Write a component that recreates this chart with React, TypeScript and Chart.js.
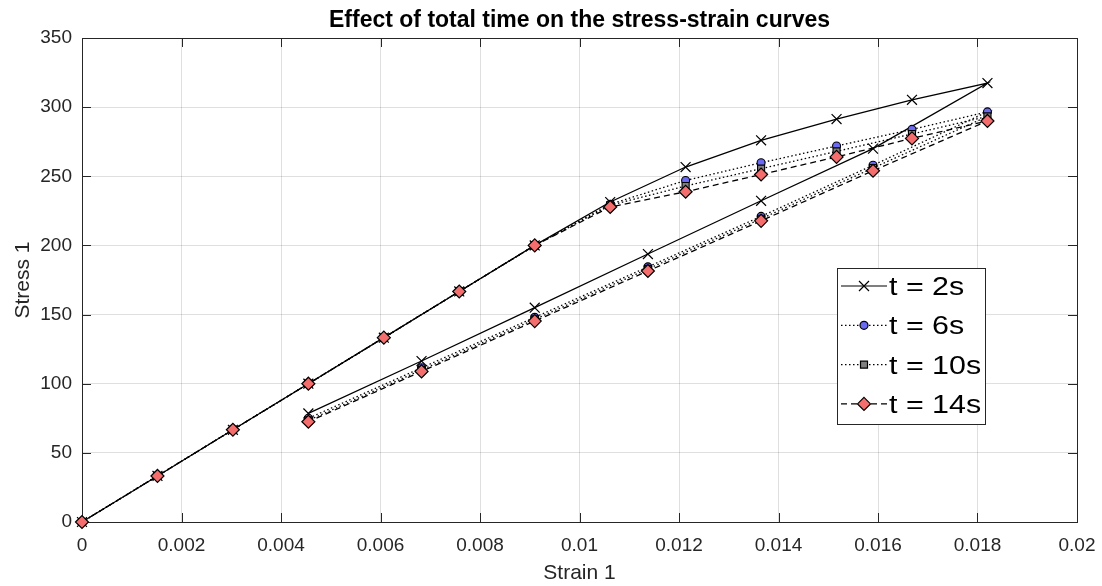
import React, { useEffect, useRef } from "react";
import { Chart, registerables } from "chart.js";

Chart.register(...registerables);

// Strain values: loading branch (0 -> 0.0182) then unloading branch (0.0159 -> 0.00455)
const strainValues = [
  0, 0.001517, 0.003033, 0.00455, 0.006067, 0.007583, 0.0091, 0.010617, 0.012133,
  0.01365, 0.015167, 0.016683, 0.0182, 0.0159, 0.01365, 0.011375, 0.0091, 0.006825, 0.00455,
];

const stress2s = [
  0, 33.3, 66.7, 100, 133.3, 166.7, 200, 231.4, 256.7, 276.0, 291.4, 305.3, 317.4,
  270.0, 232.3, 193.8, 155.0, 116.4, 78.5,
];
const stress6s = [
  0, 33.3, 66.7, 100, 133.3, 166.7, 200, 229.8, 247.0, 259.8, 271.9, 283.9, 296.6,
  258.0, 221.0, 184.5, 148.0, 111.5, 75.0,
];
const stress10s = [
  0, 33.3, 66.7, 100, 133.3, 166.7, 200, 229.0, 243.0, 255.5, 268.0, 280.6, 293.3,
  256.0, 219.3, 183.0, 146.5, 110.0, 73.5,
];
const stress14s = [
  0, 33.3, 66.7, 100, 133.3, 166.7, 200, 227.8, 238.8, 251.3, 264.0, 277.4, 290.0,
  254.0, 217.8, 181.5, 145.3, 108.9, 72.5,
];

const seriesLabels = ["t = 2s", "t = 6s", "t = 10s", "t = 14s"];
const xTickStep = 0.002;
const yTickStep = 50;

const AXIS_COLOR = "#262626";
const GRID_COLOR = "rgba(38,38,38,0.15)";
const FONT = "'Liberation Sans', Arial, Helvetica, sans-serif";

const toPoints = (ys: number[]) => ys.map((y, i) => ({ x: strainValues[i], y }));

const seriesStyles = [
  { dash: [] as number[], marker: "cross", fill: "#000000" },
  { dash: [1.5, 2.5], marker: "circle", fill: "#6a6af5" },
  { dash: [1.5, 2.5], marker: "square", fill: "#808080" },
  { dash: [6, 4], marker: "diamond", fill: "#f46e6e" },
];

function drawMarker(ctx: CanvasRenderingContext2D, kind: string, x: number, y: number, fill: string) {
  ctx.save();
  ctx.setLineDash([]);
  ctx.strokeStyle = "#000";
  ctx.lineWidth = 1.2;
  ctx.fillStyle = fill;
  ctx.beginPath();
  if (kind === "cross") {
    const s = 5;
    ctx.moveTo(x - s, y - s);
    ctx.lineTo(x + s, y + s);
    ctx.moveTo(x + s, y - s);
    ctx.lineTo(x - s, y + s);
    ctx.stroke();
  } else if (kind === "circle") {
    ctx.arc(x, y, 4, 0, Math.PI * 2);
    ctx.fill();
    ctx.stroke();
  } else if (kind === "square") {
    ctx.rect(x - 3.5, y - 3.5, 7, 7);
    ctx.fill();
    ctx.stroke();
  } else {
    const r = 6.5;
    ctx.moveTo(x, y - r);
    ctx.lineTo(x + r, y);
    ctx.lineTo(x, y + r);
    ctx.lineTo(x - r, y);
    ctx.closePath();
    ctx.fill();
    ctx.stroke();
  }
  ctx.restore();
}

const framePlugin = {
  id: "matlabFrame",
  beforeDatasetsDraw(chart: any) {
    const { ctx, chartArea, scales } = chart;
    const { left, right, top, bottom } = chartArea;
    ctx.save();
    ctx.strokeStyle = AXIS_COLOR;
    ctx.lineWidth = 1;
    ctx.setLineDash([]);
    ctx.strokeRect(Math.round(left) + 0.5, Math.round(top) + 0.5, Math.round(right - left), Math.round(bottom - top));
    const tl = 9;
    ctx.beginPath();
    for (const t of scales.x.ticks) {
      const px = Math.round(scales.x.getPixelForValue(t.value)) + 0.5;
      ctx.moveTo(px, bottom);
      ctx.lineTo(px, bottom - tl);
      ctx.moveTo(px, top);
      ctx.lineTo(px, top + tl);
    }
    for (const t of scales.y.ticks) {
      const py = Math.round(scales.y.getPixelForValue(t.value)) + 0.5;
      ctx.moveTo(left, py);
      ctx.lineTo(left + tl, py);
      ctx.moveTo(right, py);
      ctx.lineTo(right - tl, py);
    }
    ctx.stroke();
    ctx.restore();
  },
};

const legendPlugin = {
  id: "insideLegend",
  afterDatasetsDraw(chart: any) {
    const { ctx, chartArea } = chart;
    const boxLeft = chartArea.right - 240;
    const boxTop = chartArea.top + 230;
    const boxW = 148;
    const boxH = 156;
    ctx.save();
    ctx.fillStyle = "#ffffff";
    ctx.fillRect(boxLeft, boxTop, boxW, boxH);
    ctx.strokeStyle = AXIS_COLOR;
    ctx.lineWidth = 1;
    ctx.strokeRect(boxLeft + 0.5, boxTop + 0.5, boxW, boxH);
    seriesLabels.forEach((label, i) => {
      const st = seriesStyles[i];
      const cy = boxTop + 18 + i * 39.3;
      ctx.save();
      ctx.strokeStyle = "#000";
      ctx.lineWidth = 1.2;
      ctx.setLineDash(st.dash);
      ctx.beginPath();
      ctx.moveTo(boxLeft + 4, cy);
      ctx.lineTo(boxLeft + 50, cy);
      ctx.stroke();
      ctx.restore();
      drawMarker(ctx, st.marker, boxLeft + 27, cy, st.fill);
      ctx.save();
      ctx.translate(boxLeft + 52, cy + 2);
      ctx.scale(1.17, 1);
      ctx.fillStyle = "#000";
      ctx.font = `26px ${FONT}`;
      ctx.textAlign = "left";
      ctx.textBaseline = "middle";
      ctx.fillText(label, 0, 0);
      ctx.restore();
    });
    ctx.restore();
  },
};

export default function App() {
  const canvasRef = useRef<HTMLCanvasElement | null>(null);

  useEffect(() => {
    const canvas = canvasRef.current;
    if (!canvas) return;
    const common = { showLine: true, borderColor: "#000000", borderWidth: 1.3, clip: false as any, pointBorderColor: "#000000" };
    const chart = new Chart(canvas, {
      type: "scatter",
      data: {
        datasets: [
          {
            ...common,
            label: seriesLabels[0],
            data: toPoints(stress2s),
            pointStyle: "crossRot",
            pointRadius: 7,
            pointBorderWidth: 1.2,
            order: 4,
          },
          {
            ...common,
            label: seriesLabels[1],
            data: toPoints(stress6s),
            borderDash: seriesStyles[1].dash,
            pointStyle: "circle",
            pointRadius: 4,
            pointBackgroundColor: seriesStyles[1].fill,
            pointBorderWidth: 1.1,
            order: 3,
          },
          {
            ...common,
            label: seriesLabels[2],
            data: toPoints(stress10s),
            borderDash: seriesStyles[2].dash,
            pointStyle: "rect",
            pointRadius: 5,
            pointBackgroundColor: seriesStyles[2].fill,
            pointBorderWidth: 1.1,
            order: 2,
          },
          {
            ...common,
            label: seriesLabels[3],
            data: toPoints(stress14s),
            borderDash: seriesStyles[3].dash,
            pointStyle: "rectRot",
            pointRadius: 6.5,
            pointBackgroundColor: seriesStyles[3].fill,
            pointBorderWidth: 1.2,
            order: 1,
          },
        ],
      },
      options: {
        responsive: false,
        animation: false,
        layout: { padding: { left: 0, right: 25, top: 0, bottom: 0 } },
        plugins: {
          legend: { display: false },
          tooltip: { enabled: false },
          title: {
            display: true,
            fullSize: false,
            text: "Effect of total time on the stress-strain curves",
            color: "#000000",
            font: { family: FONT, size: 23, weight: "bold" },
            padding: { top: 7, bottom: 3.4 },
          },
        },
        scales: {
          x: {
            type: "linear",
            min: 0,
            max: 0.02,
            afterFit: (scale: any) => {
              scale.height = 64;
              scale.paddingLeft = 0;
              scale.paddingRight = 0;
            },
            ticks: {
              stepSize: xTickStep,
              color: AXIS_COLOR,
              font: { family: FONT, size: 19 },
              padding: 12,
              maxRotation: 0,
              autoSkip: false,
              callback: (v: any) => String(+Number(v).toFixed(4)),
            },
            grid: { color: GRID_COLOR, drawTicks: false, lineWidth: 1 },
            border: { display: true, color: AXIS_COLOR },
            title: {
              display: true,
              text: "Strain 1",
              color: AXIS_COLOR,
              font: { family: FONT, size: 21 },
              padding: { top: 0, bottom: 0 },
            },
          },
          y: {
            type: "linear",
            min: 0,
            max: 350,
            afterFit: (scale: any) => {
              scale.width = 82;
              scale.paddingTop = 0;
              scale.paddingBottom = 0;
            },
            ticks: {
              stepSize: yTickStep,
              color: AXIS_COLOR,
              font: { family: FONT, size: 19 },
              padding: 10,
            },
            grid: { color: GRID_COLOR, drawTicks: false, lineWidth: 1 },
            border: { display: true, color: AXIS_COLOR },
            title: {
              display: true,
              text: "Stress 1",
              color: AXIS_COLOR,
              font: { family: FONT, size: 21 },
              padding: { top: 11, bottom: 0 },
            },
          },
        },
      },
      plugins: [framePlugin, legendPlugin],
    });
    return () => chart.destroy();
  }, []);

  return (
    <div style={{ position: "fixed", left: 0, top: 0, width: 1102, height: 586, background: "#ffffff" }}>
      <canvas ref={canvasRef} width={1102} height={586} style={{ display: "block" }} />
    </div>
  );
}
